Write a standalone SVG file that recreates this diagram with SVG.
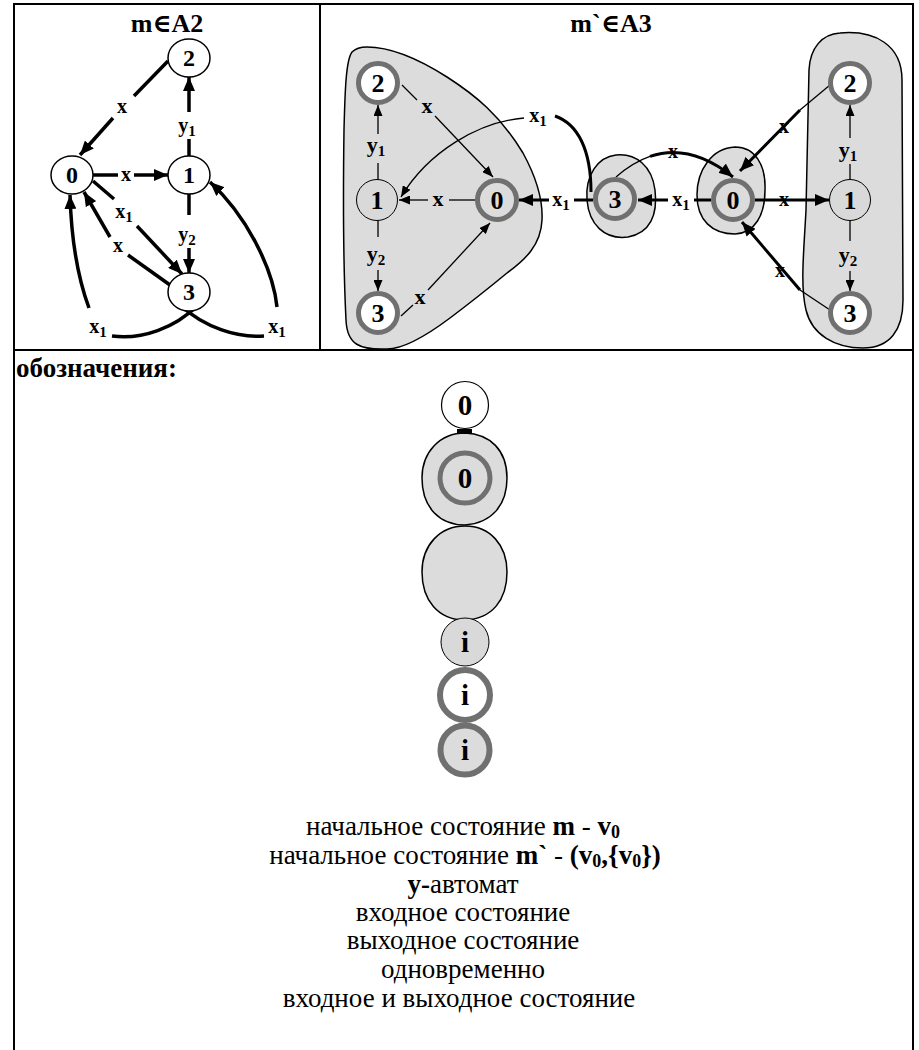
<svg xmlns="http://www.w3.org/2000/svg" width="919" height="1050" viewBox="0 0 919 1050" font-family="'Liberation Serif', 'DejaVu Serif', serif">
<defs>
<marker id="ah" viewBox="0 0 11 9" refX="11" refY="4.5" markerWidth="11" markerHeight="9" markerUnits="userSpaceOnUse" orient="auto"><path d="M0,0 L11,4.5 L0,9 Z" fill="#000"/></marker>
<marker id="ahb" viewBox="0 0 14 12" refX="14" refY="6" markerWidth="14" markerHeight="12" markerUnits="userSpaceOnUse" orient="auto"><path d="M0,0 L14,6 L0,12 Z" fill="#000"/></marker>
</defs>
<style>
text{font-family:'Liberation Serif','DejaVu Serif',serif;fill:#000}
.ttl{font-size:26px;font-weight:bold;text-anchor:middle}
.nl{font-size:24px;font-weight:bold;text-anchor:middle}
.nr{font-size:26px;font-weight:bold;text-anchor:middle}
.ng{font-size:29px;font-weight:bold;text-anchor:middle}
.el{font-size:20px;font-weight:bold;text-anchor:middle}
.erb{font-size:22px;font-weight:bold;text-anchor:middle}
.lg{font-size:27px;text-anchor:middle}
.b{font-weight:bold}
.sub{font-size:15px}
.subl{font-size:18px}
.plain{fill:#fff;stroke:#000;stroke-width:1.5}
.grey{fill:#d9d9d9;stroke:#000;stroke-width:1}
.ring{fill:#fff;stroke:#707070;stroke-width:5}
.ringg{fill:#dcdcdc;stroke:#707070;stroke-width:5}
.blob{fill:#dcdcdc;stroke:#000;stroke-width:1.5}
.tk{fill:none;stroke:#000;stroke-width:3.5}
.tn{fill:none;stroke:#000;stroke-width:1.3}
.tm{fill:none;stroke:#000;stroke-width:3}
.bd{fill:none;stroke:#000;stroke-width:2}
</style>
<rect x="0" y="0" width="919" height="1050" fill="#fff"/>
<g id="table">
<path class="bd" d="M14,1050 L14,4 L913,4 L913,1050 M14,350 L913,350 M320,4 L320,350"/>
</g>
<text class="ttl" x="167" y="32">m∈A2</text>
<text class="ttl" x="611" y="32">m`∈A3</text>

<g id="blobs">
<path id="blob-left" class="blob" d="M367,47 C395,47 425,63 447,77 C475,95 500,115 523,153 C535,175 543,200 542,220 C541,245 525,260 507,273 C490,287 470,303 450,318 C430,333 405,349 387,349 C360,350 347,345 346,320 C344,280 343,200 344,130 C345,90 346,60 352,52 C356,48 362,47 367,47 Z"/>
<path id="blob-s3" class="blob" d="M587,200 C585,175 598,157 616,155 C636,153 652,166 655,190 C658,215 650,233 628,237 C604,240 589,224 587,200 Z"/>
<path id="blob-s0" class="blob" d="M697,195 C697,170 712,148 735,147 C755,147 766,165 765,190 C765,215 755,233 735,234 C712,234 697,220 697,195 Z"/>
<path id="blob-right" class="blob" d="M840,33 C875,30 902,45 902,80 L903,300 C903,330 890,348 863,348 C835,348 812,335 806,310 C800,285 804,250 806,210 L809,70 C810,48 822,34 840,33 Z"/>
</g>

<g id="connectors">
<path class="tk" d="M168,61 L134,96"/>
<path class="tk" d="M113,118 L80,155" marker-end="url(#ahb)"/>
<path class="tk" d="M93,175 L118,175"/>
<path class="tk" d="M134,175 L168,175" marker-end="url(#ahb)"/>
<path class="tk" d="M189,156 L189,139"/>
<path class="tk" d="M189,112 L189,77" marker-end="url(#ahb)"/>
<path class="tk" d="M189,193 L189,215"/>
<path class="tk" d="M189,248 L189,273" marker-end="url(#ahb)"/>
<path class="tk" d="M93,181 L114,199"/>
<path class="tk" d="M137,226 L182,274" marker-end="url(#ahb)"/>
<path class="tk" d="M170,285 L128,255"/>
<path class="tk" d="M110,237 L84,192" marker-end="url(#ahb)"/>
<path class="tk" d="M198,305 C175,328 142,340 112,336"/>
<path class="tk" d="M89,308 Q72,262 70,195" marker-end="url(#ahb)"/>
<path class="tk" d="M180,305 C205,328 238,338 264,336"/>
<path class="tk" d="M277,307 C273,268 246,215 210,182" marker-end="url(#ahb)"/>
<path class="tn" d="M402,85 L417,100"/>
<path class="tn" d="M435,116 L493,177" marker-end="url(#ah)"/>
<path class="tn" d="M475,200 L449,200"/>
<path class="tn" d="M428,200 L399,200" marker-end="url(#ah)"/>
<path class="tn" d="M378,180 L378,163"/>
<path class="tn" d="M378,134 L378,105" marker-end="url(#ah)"/>
<path class="tn" d="M378,220 L378,237"/>
<path class="tn" d="M378,270 L378,291" marker-end="url(#ah)"/>
<path class="tn" d="M401,316 L413,305"/>
<path class="tn" d="M428,290 L490,223" marker-end="url(#ah)"/>
<path class="tm" d="M593,200 L574,200"/>
<path class="tm" d="M549,200 L519,200" marker-end="url(#ahb)"/>
<path class="tm" d="M591,192 C591,150 578,124 555,116"/>
<path class="tn" d="M524,118 C478,122 428,152 401,197" marker-end="url(#ah)"/>
<path class="tm" d="M711,200 L694,200"/>
<path class="tm" d="M668,200 L638,200" marker-end="url(#ahb)"/>
<path class="tn" d="M616,177 Q632.8,162.3 650,156.4"/>
<path class="tm" d="M650,156.4 Q690.3,142.7 733,177" marker-end="url(#ahb)"/>
<path class="tn" d="M850,180 L850,164"/>
<path class="tn" d="M850,138 L850,105" marker-end="url(#ah)"/>
<path class="tn" d="M850,220 L850,241"/>
<path class="tn" d="M850,271 L850,291" marker-end="url(#ah)"/>
<path class="tn" d="M830,85 L800,110"/>
<path class="tm" d="M800,110 L740,171" marker-end="url(#ahb)"/>
<path class="tm" d="M755,200 L829,200" marker-end="url(#ahb)"/>
<path class="tn" d="M830,310 L800,290"/>
<path class="tm" d="M800,290 L742,222" marker-end="url(#ahb)"/>
</g>

<g id="edge-labels">
<text class="el" x="122" y="113">x</text>
<text class="el" x="126" y="181">x</text>
<text class="el" x="187" y="132">y<tspan class="sub" dy="4">1</tspan></text>
<text class="el" x="187" y="241">y<tspan class="sub" dy="4">2</tspan></text>
<text class="el" x="124" y="218">x<tspan class="sub" dy="4">1</tspan></text>
<text class="el" x="118" y="252">x</text>
<text class="el" x="98" y="333">x<tspan class="sub" dy="4">1</tspan></text>
<text class="el" x="277" y="333">x<tspan class="sub" dy="4">1</tspan></text>
<text class="erb" x="427" y="113">x</text>
<text class="erb" x="438" y="206">x</text>
<text class="erb" x="420" y="304">x</text>
<text class="erb" x="376" y="152">y<tspan class="sub" dy="4">1</tspan></text>
<text class="erb" x="376" y="261">y<tspan class="sub" dy="4">2</tspan></text>
<text class="el" x="538" y="122">x<tspan class="sub" dy="4">1</tspan></text>
<text class="el" x="561" y="206">x<tspan class="sub" dy="4">1</tspan></text>
<text class="el" x="681" y="206">x<tspan class="sub" dy="4">1</tspan></text>
<text class="el" x="673" y="158">x</text>
<text class="el" x="784" y="133">x</text>
<text class="el" x="784" y="206">x</text>
<text class="el" x="780" y="277">x</text>
<text class="erb" x="848" y="157">y<tspan class="sub" dy="4">1</tspan></text>
<text class="erb" x="848" y="262">y<tspan class="sub" dy="4">2</tspan></text>
</g>

<g id="L0"><ellipse class="plain" cx="72" cy="175" rx="21" ry="19"/><text class="nl" x="72" y="183">0</text></g>
<g id="L1"><ellipse class="plain" cx="189" cy="175" rx="21" ry="19"/><text class="nl" x="189" y="183">1</text></g>
<g id="L2"><ellipse class="plain" cx="189" cy="58" rx="21" ry="19"/><text class="nl" x="189" y="66">2</text></g>
<g id="L3"><ellipse class="plain" cx="189" cy="292" rx="21" ry="19"/><text class="nl" x="189" y="300">3</text></g>

<g id="B2"><circle class="ring" cx="378" cy="83" r="19.5"/><text class="nr" x="378" y="92">2</text></g>
<g id="B1"><circle class="grey" cx="377" cy="200" r="20.5"/><text class="nr" x="377" y="209">1</text></g>
<g id="B0"><circle class="ringg" cx="497" cy="200" r="19.5"/><text class="nr" x="497" y="209">0</text></g>
<g id="B3"><circle class="ring" cx="378" cy="313" r="19.5"/><text class="nr" x="378" y="322">3</text></g>
<g id="S3"><circle class="ringg" cx="615" cy="199" r="19.5"/><text class="nr" x="615" y="208">3</text></g>
<g id="S0"><circle class="ringg" cx="733" cy="200" r="19.5"/><text class="nr" x="733" y="209">0</text></g>
<g id="R2"><circle class="ring" cx="850" cy="83" r="19.5"/><text class="nr" x="850" y="92">2</text></g>
<g id="R1"><circle class="grey" cx="850" cy="200" r="20.5"/><text class="nr" x="850" y="209">1</text></g>
<g id="R3"><circle class="ring" cx="850" cy="313" r="19.5"/><text class="nr" x="850" y="322">3</text></g>

<text x="16" y="377" style="font-size:27px;font-weight:bold">обозначения:</text>

<g id="legend">
<g id="leg-start-m"><circle class="plain" cx="465" cy="405" r="23.5" style="stroke-width:1.2"/><text class="ng" x="465" y="415">0</text></g>
<path d="M457,431 L472,431" stroke="#000" stroke-width="4"/>
<g id="leg-start-m2"><path class="blob" d="M465,433 C490,434 507,450 507,478 C507,505 492,523 465,525 C440,525 422,508 422,478 C422,452 440,433 465,433 Z"/><circle class="ringg" cx="465" cy="478" r="25"/><text class="ng" x="465" y="488">0</text></g>
<g id="leg-yauto"><path class="blob" d="M465,526 C490,526 507,545 507,572 C507,600 492,619 465,620 C438,620 422,600 422,572 C422,545 440,526 465,526 Z"/></g>
<g id="leg-in"><circle class="grey" cx="465" cy="642" r="24"/><text class="ng" x="465" y="652">i</text></g>
<g id="leg-out"><circle class="ring" cx="465" cy="695" r="25" style="stroke-width:6"/><text class="ng" x="465" y="705">i</text></g>
<g id="leg-inout"><circle class="ringg" cx="465" cy="750" r="24.5" style="stroke-width:6"/><text class="ng" x="465" y="760">i</text></g>
</g>

<g id="legend-text">
<text class="lg" x="463" y="835">начальное состояние <tspan class="b">m</tspan> - <tspan class="b">v<tspan class="subl" dy="3">0</tspan></tspan></text>
<text class="lg" x="465" y="864">начальное состояние <tspan class="b">m`</tspan> - <tspan class="b">(v<tspan class="subl" dy="3">0</tspan><tspan dy="-3">,{v</tspan><tspan class="subl" dy="3">0</tspan><tspan dy="-3">})</tspan></tspan></text>
<text class="lg" x="463" y="893"><tspan class="b">y-</tspan>автомат</text>
<text class="lg" x="463" y="921">входное состояние</text>
<text class="lg" x="463" y="949">выходное состояние</text>
<text class="lg" x="463" y="978">одновременно</text>
<text class="lg" x="459" y="1007">входное и выходное состояние</text>
</g>
</svg>
